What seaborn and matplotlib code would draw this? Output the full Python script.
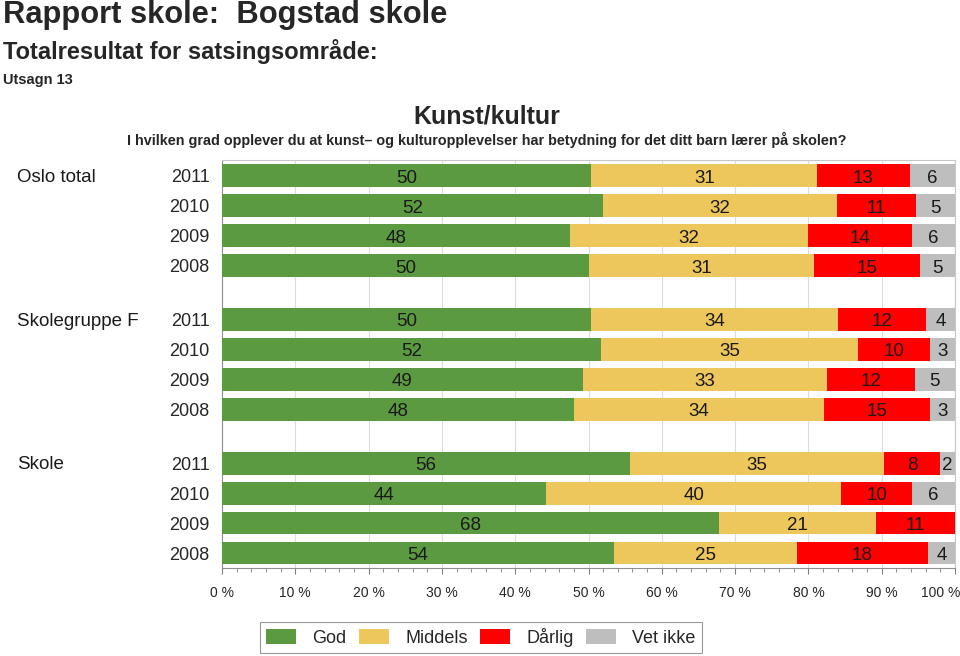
import numpy as np
import pandas as pd
import matplotlib
matplotlib.use("Agg")
import matplotlib.pyplot as plt
import matplotlib.transforms as mtrans
from matplotlib.patches import Patch
from matplotlib.ticker import MultipleLocator, FuncFormatter
import seaborn as sns

# ---------------- data ----------------
groups = ["Oslo total", "Skolegruppe F", "Skole"]
years = ["2011", "2010", "2009", "2008"]
categories = ["God", "Middels", "Dårlig", "Vet ikke"]
colors = ["#5c9a41", "#eec75c", "#ff0000", "#bebebe"]

# segment widths (percent), rows: group x year
god = [50.4, 52.0, 47.5, 50.1, 50.4, 51.7, 49.2, 48.0, 55.7, 44.2, 67.8, 53.5]
middels = [30.8, 31.9, 32.4, 30.6, 33.6, 35.1, 33.3, 34.1, 34.6, 40.3, 21.4, 24.9]
darlig = [12.6, 10.8, 14.3, 14.5, 12.0, 9.8, 12.0, 14.5, 7.7, 9.6, 10.8, 17.9]
vet_ikke = [6.2, 5.3, 5.8, 4.8, 4.0, 3.4, 5.5, 3.4, 2.0, 5.9, 0.0, 3.7]

# printed labels
god_lbl = [50, 52, 48, 50, 50, 52, 49, 48, 56, 44, 68, 54]
middels_lbl = [31, 32, 32, 31, 34, 35, 33, 34, 35, 40, 21, 25]
darlig_lbl = [13, 11, 14, 15, 12, 10, 12, 15, 8, 10, 11, 18]
vet_lbl = [6, 5, 6, 5, 4, 3, 5, 3, 2, 6, None, 4]

# ---------------- layout ----------------
group_step = 4.8
rows = []
for gi, g in enumerate(groups):
    for yi, yr in enumerate(years):
        rows.append((g, yr, gi * group_step + yi))
df = pd.DataFrame(rows, columns=["group", "year", "pos"])
widths = [god, middels, darlig, vet_ikke]
labels = [god_lbl, middels_lbl, darlig_lbl, vet_lbl]
for cat, w in zip(categories, widths):
    df[cat] = w
cum = np.cumsum(np.array(widths), axis=0)  # 4 x n
for i, cat in enumerate(categories):
    df["cum_" + cat] = cum[i]

sns.set_theme(style="white")
plt.rcParams["font.family"] = ["Liberation Sans", "DejaVu Sans"]

fig = plt.figure(figsize=(9.6, 6.56), dpi=100)
ax = fig.add_axes([222 / 960, 1 - 568 / 656, 733 / 960, 408 / 656])

# draw stacked bars: draw cumulative ends from last to first
for i in range(len(categories) - 1, -1, -1):
    sns.barplot(data=df, x="cum_" + categories[i], y="pos", orient="h",
                native_scale=True, color=colors[i], width=0.76,
                errorbar=None, linewidth=0, saturation=1, ax=ax, zorder=3)

# value labels
for i in range(len(categories)):
    for r in range(len(df)):
        lbl = labels[i][r]
        w = widths[i][r]
        if lbl is None or w <= 0:
            continue
        left = cum[i][r] - w
        ax.text(left + w / 2, df["pos"][r] + 0.08, str(lbl), ha="center", va="center",
                fontsize=13.5, color="#1a1a1a", zorder=5)

ax.set_xlim(0, 100)
ax.set_ylim(3 + 2 * group_step + 0.5, -0.53)
ax.set_yticks(df["pos"])
ax.set_yticklabels(df["year"], fontsize=13)
ax.tick_params(axis="y", length=0, pad=9)
ax.set_xlabel("")
ax.set_ylabel("")

ax.xaxis.set_major_locator(MultipleLocator(10))
ax.xaxis.set_minor_locator(MultipleLocator(2))
ax.xaxis.set_major_formatter(FuncFormatter(lambda v, p: f"{int(round(v))} %"))
ax.tick_params(axis="x", which="major", length=4, width=0.8, color="#808080",
               labelsize=10, pad=9, bottom=True)
ax.tick_params(axis="x", which="minor", length=3, width=0.6, color="#808080", bottom=True)
ax.grid(axis="x", color="#dcdcdc", linewidth=0.8, zorder=0)
ax.set_axisbelow(True)
for s in ["top", "right"]:
    ax.spines[s].set_color("#c8c8c8")
    ax.spines[s].set_linewidth(0.8)
for s in ["left", "bottom"]:
    ax.spines[s].set_color("#909090")
    ax.spines[s].set_linewidth(0.8)
if ax.get_legend() is not None:
    ax.get_legend().remove()

# narrow tick labels; shift the "100 %" label left so it stays inside the figure
fig.canvas.draw()
for lab in ax.get_xticklabels():
    lab.set_family(["Liberation Sans Narrow", "Liberation Sans", "DejaVu Sans"])
    if lab.get_text().startswith("100"):
        lab.set_transform(lab.get_transform() +
                          mtrans.ScaledTranslation(-14 / 100, 0, fig.dpi_scale_trans))

# group labels
trans = mtrans.blended_transform_factory(fig.transFigure, ax.transData)
for gi, g in enumerate(groups):
    ax.text(17 / 960, gi * group_step + 0.05, g, transform=trans, ha="left",
            va="center", fontsize=13.5, color="#1a1a1a")

# titles
fig.text(3 / 960, 1 - 15 / 656, "Rapport skole:  Bogstad skole", fontsize=22.2,
         fontweight="bold", ha="left", va="center")
fig.text(3 / 960, 1 - 52 / 656, "Totalresultat for satsingsområde:", fontsize=17,
         fontweight="bold", ha="left", va="center")
fig.text(3 / 960, 1 - 80 / 656, "Utsagn 13", fontsize=10.5,
         fontweight="bold", ha="left", va="center")
fig.text(487 / 960, 1 - 116 / 656, "Kunst/kultur", fontsize=18,
         fontweight="bold", ha="center", va="center")
fig.text(487 / 960, 1 - 140 / 656,
         "I hvilken grad opplever du at kunst\u2013 og kulturopplevelser har betydning for det ditt barn lærer på skolen?",
         fontsize=10.4, fontweight="bold", ha="center", va="center")

# legend
handles = [Patch(facecolor=c, edgecolor="none", label=l) for c, l in zip(colors, categories)]
leg = fig.legend(handles=handles, loc="center", bbox_to_anchor=(481 / 960, 1 - 637.5 / 656),
                 ncol=4, fontsize=13, frameon=True, fancybox=False, handlelength=1.65,
                 handleheight=0.9, handletextpad=0.9, columnspacing=0.7,
                 borderpad=0.35, edgecolor="#808080")
leg.get_frame().set_linewidth(0.8)

fig.savefig("out.png", dpi=100)
